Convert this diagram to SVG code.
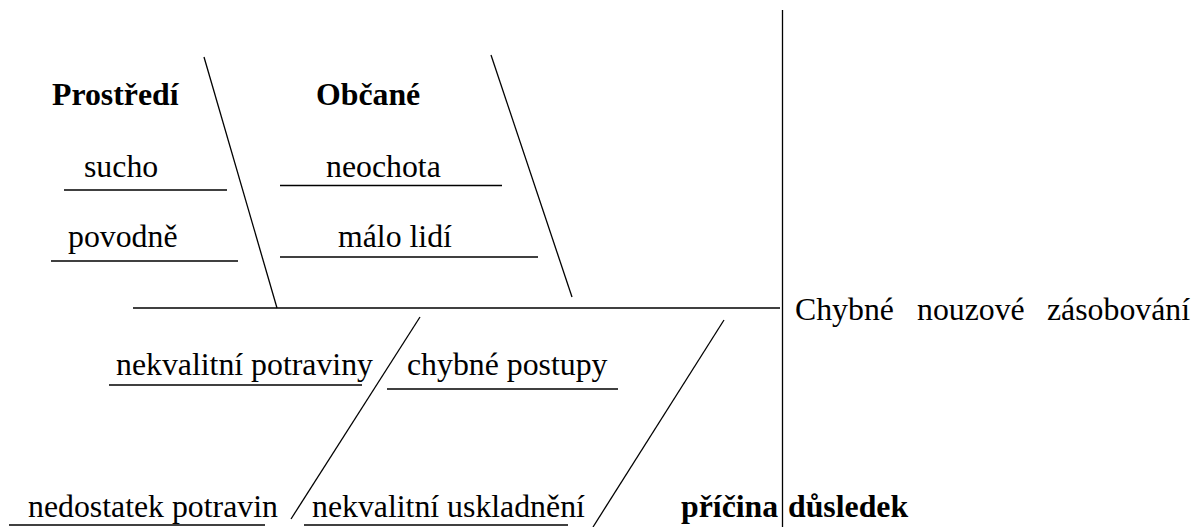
<svg xmlns="http://www.w3.org/2000/svg" width="1197" height="527" viewBox="0 0 1197 527">
<style>
line{stroke:#000;stroke-width:1.3}
text{font-family:"Liberation Serif","Times New Roman",serif;font-size:31.8px;fill:#000}
.b{font-weight:bold}
</style>
<rect width="1197" height="527" fill="#fff"/>
<g id="connectors">
<line x1="133" y1="308" x2="780" y2="308"/>
<line x1="782.5" y1="10" x2="782.5" y2="527"/>
<line x1="204" y1="57" x2="277" y2="308"/>
<line x1="491" y1="55" x2="572" y2="297"/>
<line x1="420" y1="317" x2="291" y2="519"/>
<line x1="724" y1="320" x2="593" y2="527"/>
</g>
<g id="prostredi"><text class="b" x="52" y="105">Prostředí</text></g>
<g id="obcane"><text class="b" x="316" y="105">Občané</text></g>
<g id="sucho"><text x="84" y="177">sucho</text><line x1="64" y1="190" x2="227" y2="190"/></g>
<g id="povodne"><text x="68" y="247">povodně</text><line x1="51" y1="261" x2="238" y2="261"/></g>
<g id="neochota"><text x="326" y="177">neochota</text><line x1="280" y1="185.5" x2="502" y2="185.5"/></g>
<g id="malo-lidi"><text x="338" y="247">málo lidí</text><line x1="280" y1="257" x2="538" y2="257"/></g>
<g id="nekvalitni-potraviny"><text x="116" y="375">nekvalitní potraviny</text><line x1="109" y1="385" x2="362" y2="385"/></g>
<g id="chybne-postupy"><text x="407" y="375">chybné postupy</text><line x1="387" y1="389" x2="618" y2="389"/></g>
<g id="nedostatek-potravin"><text x="28" y="517">nedostatek potravin</text><line x1="9" y1="525" x2="265" y2="525"/></g>
<g id="nekvalitni-uskladneni"><text x="312" y="517">nekvalitní uskladnění</text><line x1="304" y1="525" x2="568" y2="525"/></g>
<g id="pricina"><text class="b" x="681" y="517">příčina</text></g>
<g id="dusledek"><text class="b" x="788" y="517">důsledek</text></g>
<g id="chybne-zasobovani"><text x="795" y="320">Chybné</text><text x="917" y="320">nouzové</text><text x="1047" y="320">zásobování</text></g>
</svg>
